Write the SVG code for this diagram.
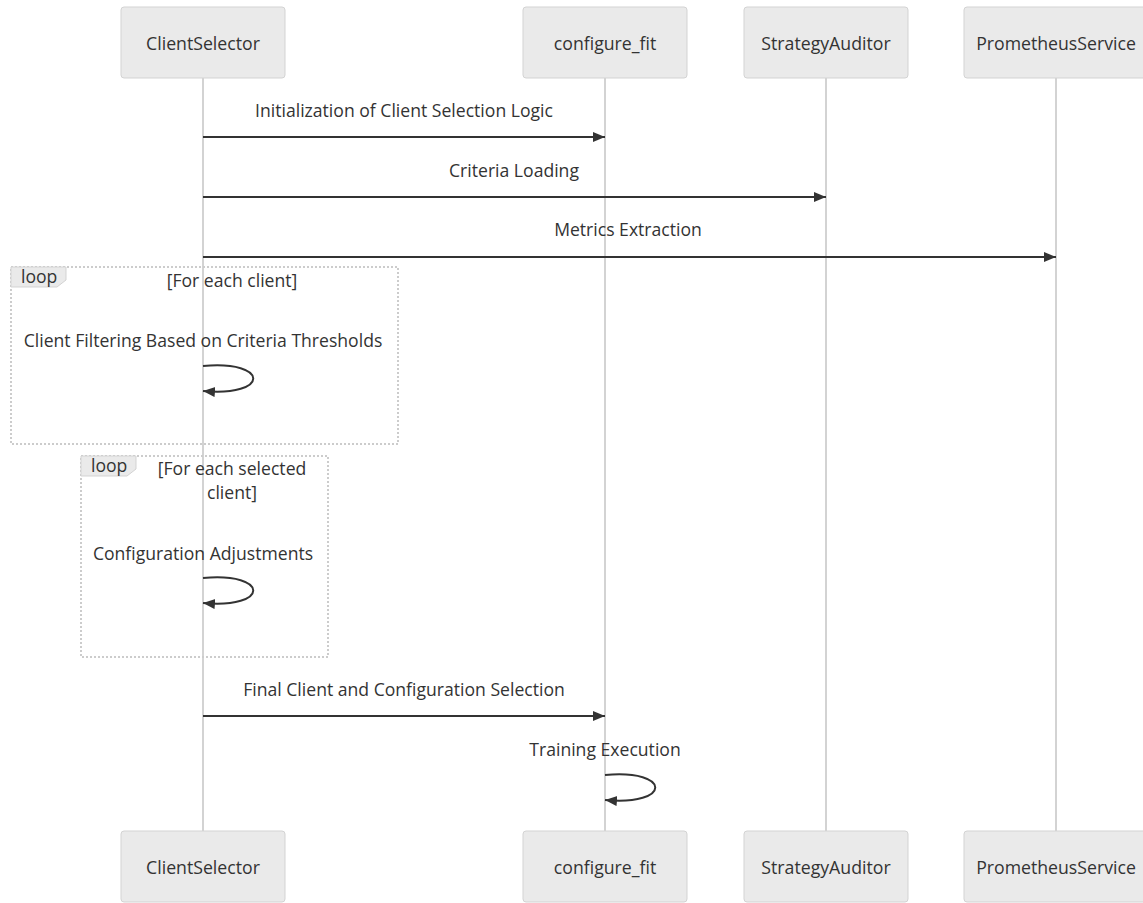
<svg xmlns="http://www.w3.org/2000/svg" width="1143" height="903" viewBox="0 0 1143 903">
<style>
.actor{fill:#eaeaea;stroke:#d3d3d3;stroke-width:1}
.atext{font-family:"Open Sans",sans-serif;font-size:17.7px;fill:#333;text-anchor:middle;dominant-baseline:central}
.life{stroke:#d3d3d3;stroke-width:2}
.msg{stroke:#333;stroke-width:2;fill:none}
.mtext{font-family:"Open Sans",sans-serif;font-size:17.6px;fill:#333;text-anchor:middle}
.loopbox{fill:none;stroke:#ccc;stroke-width:2;stroke-dasharray:2 2}
.looplab{fill:#eaeaea;stroke:#d3d3d3;stroke-width:1}
.ltext{font-family:"Open Sans",sans-serif;font-size:17.6px;fill:#333}
</style>
<defs>
<marker id="arrow" viewBox="0 0 12 12" refX="12" refY="5" markerWidth="12" markerHeight="12" markerUnits="userSpaceOnUse" orient="auto">
<path d="M0,0 L12,5 L0,10 z" fill="#333"/>
</marker>
</defs>
<g id="lifelines">
<line class="life" x1="203" y1="78" x2="203" y2="831"/>
<line class="life" x1="605" y1="78" x2="605" y2="831"/>
<line class="life" x1="826" y1="78" x2="826" y2="831"/>
<line class="life" x1="1056" y1="78" x2="1056" y2="831"/>
</g>
<g id="actor-ClientSelector-top"><rect class="actor" x="121" y="7" width="164" height="71" rx="3"/><text class="atext" x="203" y="43">ClientSelector</text></g>
<g id="actor-configure_fit-top"><rect class="actor" x="523" y="7" width="164" height="71" rx="3"/><text class="atext" x="605" y="43">configure_fit</text></g>
<g id="actor-StrategyAuditor-top"><rect class="actor" x="744" y="7" width="164" height="71" rx="3"/><text class="atext" x="826" y="43">StrategyAuditor</text></g>
<g id="actor-PrometheusService-top"><rect class="actor" x="964" y="7" width="184" height="71" rx="3"/><text class="atext" x="1056" y="43">PrometheusService</text></g>
<g id="actor-ClientSelector-bottom"><rect class="actor" x="121" y="831" width="164" height="71" rx="3"/><text class="atext" x="203" y="867">ClientSelector</text></g>
<g id="actor-configure_fit-bottom"><rect class="actor" x="523" y="831" width="164" height="71" rx="3"/><text class="atext" x="605" y="867">configure_fit</text></g>
<g id="actor-StrategyAuditor-bottom"><rect class="actor" x="744" y="831" width="164" height="71" rx="3"/><text class="atext" x="826" y="867">StrategyAuditor</text></g>
<g id="actor-PrometheusService-bottom"><rect class="actor" x="964" y="831" width="184" height="71" rx="3"/><text class="atext" x="1056" y="867">PrometheusService</text></g>
<g id="loop1">
<rect class="loopbox" x="11" y="267" width="387" height="177"/>
<polygon class="looplab" points="11,267 66,267 66,280 57,287 11,287"/>
<text class="ltext" x="21" y="283">loop</text>
<text class="mtext" x="232" y="287">[For each client]</text>
</g>
<g id="loop2">
<rect class="loopbox" x="81" y="456" width="247" height="201"/>
<polygon class="looplab" points="81,456 136,456 136,469 127,476 81,476"/>
<text class="ltext" x="91" y="472">loop</text>
<text class="mtext" x="232" y="475">[For each selected</text>
<text class="mtext" x="232" y="499">client]</text>
</g>
<g id="connectors">
<text class="mtext" x="404" y="117">Initialization of Client Selection Logic</text>
<line class="msg" x1="203" y1="137" x2="605" y2="137" marker-end="url(#arrow)"/>
<text class="mtext" x="514" y="177">Criteria Loading</text>
<line class="msg" x1="203" y1="197" x2="826" y2="197" marker-end="url(#arrow)"/>
<text class="mtext" x="628" y="236">Metrics Extraction</text>
<line class="msg" x1="203" y1="257" x2="1056" y2="257" marker-end="url(#arrow)"/>
<text class="mtext" x="203" y="347">Client Filtering Based on Criteria Thresholds</text>
<path class="msg" d="M203,366 C270,360 270,397 203,391" marker-end="url(#arrow)"/>
<text class="mtext" x="203" y="560">Configuration Adjustments</text>
<path class="msg" d="M203,578 C270,572 270,609 203,603" marker-end="url(#arrow)"/>
<text class="mtext" x="404" y="696">Final Client and Configuration Selection</text>
<line class="msg" x1="203" y1="716" x2="605" y2="716" marker-end="url(#arrow)"/>
<text class="mtext" x="605" y="756">Training Execution</text>
<path class="msg" d="M605,775 C672,769 672,806 605,800" marker-end="url(#arrow)"/>
</g>
</svg>
